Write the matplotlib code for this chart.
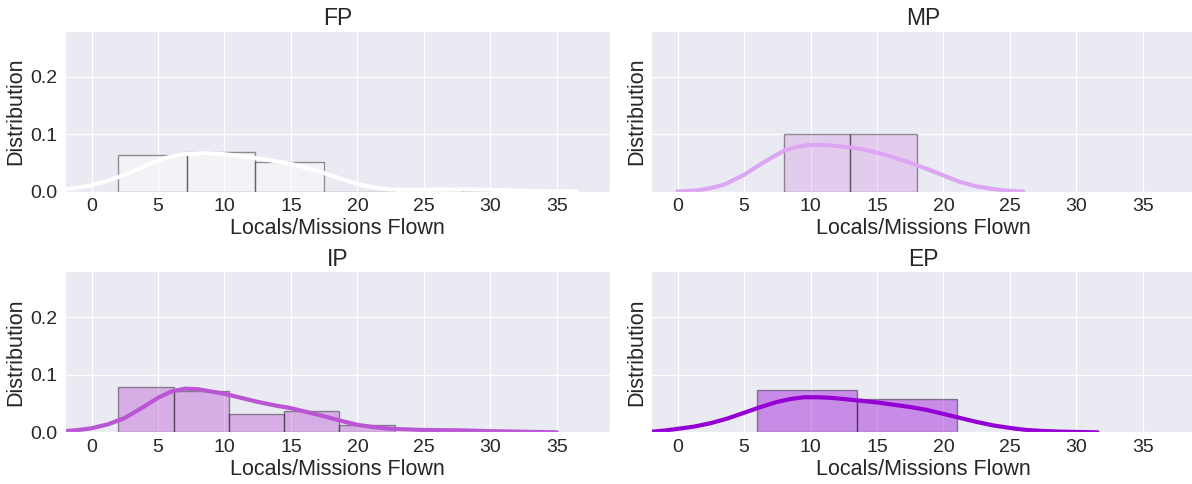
import matplotlib
matplotlib.use("Agg")
import matplotlib.pyplot as plt
import seaborn as sns
import numpy as np

# histogram bins (edges) and density heights
fp_edges = [2.0, 7.17, 12.33, 17.5, 22.67, 27.83, 33.0]
fp_heights = [0.064, 0.069, 0.052, 0.0, 0.003, 0.001]
mp_edges = [8.0, 13.0, 18.0]
mp_heights = [0.1, 0.1]
ip_edges = [2.0, 6.17, 10.33, 14.5, 18.65, 22.8]
ip_heights = [0.0785, 0.0715, 0.032, 0.0378, 0.0122]
ep_edges = [6.0, 13.5, 21.0]
ep_heights = [0.0744, 0.0587]

# kde curves (x, density)
fp_kde_x = [-2.0, -1, 0, 1, 2, 3, 4, 5, 5.8, 7, 8.5, 10, 11, 12.4, 13.5, 15, 16.2, 17.5, 18.8, 20, 21, 21.9, 23, 25, 27.5, 30, 33, 36.5]
fp_kde_y = [0.004, 0.007, 0.011, 0.017, 0.025, 0.034, 0.044, 0.054, 0.060, 0.065, 0.067, 0.065, 0.062, 0.058, 0.054, 0.048, 0.041, 0.032, 0.022, 0.013, 0.008, 0.005, 0.003, 0.003, 0.0035, 0.003, 0.001, 0.0]
mp_kde_x = [0, 1.5, 2.5, 3.5, 5, 6, 7, 8, 9, 10, 11, 12, 13, 14, 15, 16.2, 17.5, 18.8, 20, 21.2, 22.5, 23.8, 25, 26]
mp_kde_y = [0.0, 0.002, 0.006, 0.012, 0.029, 0.044, 0.058, 0.071, 0.078, 0.081, 0.081, 0.079, 0.077, 0.073, 0.068, 0.060, 0.050, 0.039, 0.028, 0.017, 0.009, 0.004, 0.001, 0.0]
ip_kde_x = [-2.0, -1, 0, 1.25, 2.5, 3.75, 5, 6, 7, 8, 9, 10, 11.25, 12.5, 13.75, 15, 16.25, 17.5, 18.75, 20, 21.25, 22.5, 25, 27.5, 30, 32.5, 35]
ip_kde_y = [0.002, 0.004, 0.007, 0.014, 0.025, 0.042, 0.060, 0.071, 0.076, 0.075, 0.071, 0.067, 0.060, 0.053, 0.047, 0.042, 0.035, 0.028, 0.020, 0.013, 0.009, 0.006, 0.004, 0.0035, 0.002, 0.001, 0.0]
ep_kde_x = [-2.0, -1, 0, 1.25, 2.5, 3.75, 5, 6.25, 7.5, 8.5, 9.5, 10.5, 11.5, 12.5, 13.75, 15, 16.25, 17.5, 18.75, 20, 21.25, 22.5, 23.75, 25, 26.25, 27.5, 28.75, 30, 31.6]
ep_kde_y = [0.001, 0.003, 0.006, 0.010, 0.016, 0.024, 0.034, 0.044, 0.053, 0.058, 0.061, 0.061, 0.060, 0.058, 0.055, 0.052, 0.048, 0.044, 0.039, 0.032, 0.025, 0.018, 0.012, 0.0076, 0.004, 0.0023, 0.0012, 0.0006, 0.0]

titles = ["FP", "MP", "IP", "EP"]
colors = ["white", "#DDA6F2", "#BA55D3", "#9400D3"]
hist_colors = ["white", "#D8A0E6", "#BA55D3", "#9400D3"]

sns.set_style("darkgrid")
plt.rcParams['font.family'] = ['Liberation Sans', 'DejaVu Sans']

fig, axes = plt.subplots(2, 2, figsize=(11.92, 4.84), dpi=100, sharex=True, sharey=True)
plt.subplots_adjust(left=0.0545, right=1.0034, top=0.9366, bottom=0.1068, wspace=0.0752, hspace=0.497)

all_edges = [fp_edges, mp_edges, ip_edges, ep_edges]
all_heights = [fp_heights, mp_heights, ip_heights, ep_heights]
all_kx = [fp_kde_x, mp_kde_x, ip_kde_x, ep_kde_x]
all_ky = [fp_kde_y, mp_kde_y, ip_kde_y, ep_kde_y]

for i, ax in enumerate(axes.flat):
    edges = np.array(all_edges[i])
    ax.bar(edges[:-1], all_heights[i], width=np.diff(edges), align="edge",
           color=hist_colors[i], edgecolor="black", linewidth=1, alpha=0.4)
    ax.plot(all_kx[i], all_ky[i], color=colors[i], lw=3, solid_joinstyle="round")
    ax.set_title(titles[i], fontsize=16.5, pad=4)
    ax.set_xlabel("Locals/Missions Flown", fontsize=15.5, labelpad=2)
    ax.set_ylabel("Distribution", fontsize=15.5, labelpad=3)
    ax.tick_params(labelsize=14)
    ax.tick_params(axis="x", pad=1.5)
    ax.tick_params(axis="y", pad=2)
    ax.xaxis.set_tick_params(labelbottom=True)
    ax.set_xticks([0, 5, 10, 15, 20, 25, 30, 35])
    ax.set_yticks([0.0, 0.1, 0.2])

axes[0, 0].set_xlim(-2.0, 39.0)
axes[0, 0].set_ylim(0, 0.28)

plt.savefig("out.png", dpi=100)
